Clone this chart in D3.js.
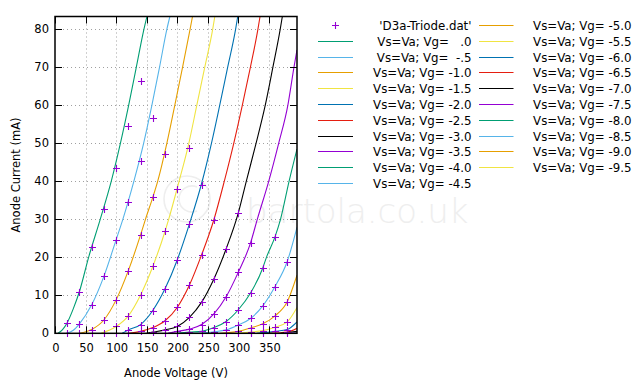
<!DOCTYPE html>
<html><head><meta charset="utf-8">
<script src="https://cdn.jsdelivr.net/npm/d3@7"></script>
<style>
body{margin:0;background:#fff;}
svg{display:block;font-family:"DejaVu Sans",Verdana,sans-serif;}
</style>
</head><body>
<svg id="chart" width="640" height="384"></svg>
<script>
// ---- data ----
const xTicks = [0, 50, 100, 150, 200, 250, 300, 350];
const yTicks = [0, 10, 20, 30, 40, 50, 60, 70, 80];
const xDomain = [0, 396];
const yDomain = [0, 83.4];

// measured points [Va (V), Ia (mA)]
const measured = [
  [20,2.8],[20,0],
  [40,11.0],[40,2.5],[40,0],
  [60,22.6],[60,7.5],[60,1.0],[60,0],
  [80,32.7],[80,15.0],[80,3.5],[80,0],
  [100,43.6],[100,24.6],[100,8.8],[100,1.8],[100,0],
  [120,54.6],[120,34.5],[120,16.5],[120,4.6],[120,1.0],[120,0],
  [140,66.3],[140,45.3],[140,25.9],[140,10.1],[140,2.3],[140,0.5],
  [160,56.8],[160,35.9],[160,17.6],[160,6.0],[160,1.5],[160,0.3],
  [180,47.1],[180,26.8],[180,11.7],[180,3.3],[180,0.9],[180,0],
  [200,37.9],[200,19.3],[200,6.8],[200,1.8],[200,0.5],[200,0],
  [220,48.7],[220,28.8],[220,12.7],[220,4.2],[220,1.1],[220,0.3],
  [240,39.0],[240,20.7],[240,8.2],[240,2.3],[240,0.5],[240,0],
  [260,29.9],[260,14.3],[260,5.1],[260,1.5],[260,0.4],[260,0],
  [280,22.2],[280,9.6],[280,3.1],[280,0.9],[280,0],
  [300,31.7],[300,16.1],[300,6.2],[300,2.2],[300,0.5],[300,0],
  [320,23.8],[320,10.6],[320,3.9],[320,1.4],[320,0.3],[320,0],
  [340,17.2],[340,7.2],[340,2.5],[340,0.7],[340,0],
  [360,25.4],[360,12.3],[360,4.6],[360,1.6],[360,0.5],[360,0],
  [380,18.9],[380,8.3],[380,3.0],[380,1.0],[380,0.3],[380,0]
];

// grid voltage labels for the model curves
const vgLabels = ["  .0"," -.5","-1.0","-1.5","-2.0","-2.5","-3.0","-3.5","-4.0","-4.5",
                  "-5.0","-5.5","-6.0","-6.5","-7.0","-7.5","-8.0","-8.5","-9.0","-9.5"];

// model curves: [Va, Ia]
const curveVg00 = [[5,0],[12,0.9],[20,2.8],[30,6.5],[40,11],[55,20],[74,30],[92,40],[107,50],[120.5,60],[133,70],[145.5,80],[150.5,83.4]];
const curveVg05 = [[18,0],[30,0.8],[40,2.5],[60,7.5],[80,15],[100,24.6],[111,30],[129,40],[145,50],[158.5,60],[171,70],[183,80],[188,83.4]];
const curveVg10 = [[40,0],[60,1.0],[80,3.5],[100,8.8],[120,16.5],[140,25.9],[148,30],[160,35.8],[168,40],[183,50],[196,60],[208.7,70],[221,80],[225,83.4]];
const curveVg15 = [[75,0],[100,1.8],[120,4.6],[140,10.1],[160,17.6],[180,26.8],[186,30],[203,40],[219,50],[232,60],[245,70],[258,80],[261.5,83.4]];
const curveVg20 = [[110,0],[120,0.9],[140,2.3],[160,6.0],[180,11.7],[200,19.3],[220,28.8],[240,39.5],[256,50],[269.5,60],[282.5,70],[295.5,80],[299,83.4]];
const curveVg25 = [[120,0],[140,0.5],[160,1.5],[180,3.3],[200,6.8],[220,12.7],[240,20.7],[260,29.9],[277,40],[292.5,50],[306.5,60],[319.7,70],[332,80],[335.5,83.4]];
const curveVg30 = [[150,0],[160,0.3],[180,0.9],[200,1.8],[220,4.2],[240,8.2],[260,14.3],[280,22.2],[300,31.7],[313,40],[329,50],[344,60],[356.5,70],[368.5,80],[372,83.4]];
const curveVg35 = [[185,0],[200,0.5],[220,1.1],[240,2.3],[260,5.1],[280,9.6],[300,16.1],[320,23.8],[331,30],[349.7,40],[366,50],[381,60],[391,70],[396,74.6]];
const curveVg40 = [[200,0],[220,0.3],[240,0.5],[260,1.5],[280,3.1],[300,6.2],[320,10.6],[340,17.2],[346,20],[360,25.4],[369,30],[383,40],[396,48.5]];
const curveVg45 = [[230,0],[260,0.4],[280,0.9],[300,2.2],[320,3.9],[340,7.2],[360,12.3],[380,18.9],[396,27.9]];
const curveVg50 = [[270,0],[300,0.5],[320,1.4],[340,2.5],[360,4.6],[380,8.3],[396,15.3]];
const curveVg55 = [[300,0],[320,0.3],[340,0.7],[360,1.6],[380,3.0],[396,6.8]];
const curveVg60 = [[330,0],[360,0.5],[380,1.0],[396,3.0]];
const curveVg65 = [[350,0],[380,0.3],[396,1.3]];
const curveVg70 = [[370,0],[396,0.5]];
const curveVg75 = [[385,0],[396,0.15]];
const curveVg80 = [[390,0],[396,0.05]];
const curveVg85 = [[392,0],[396,0.02]];
const curveVg90 = [[394,0],[396,0.01]];
const curveVg95 = [[395,0],[396,0.005]];

const curves = [curveVg00,curveVg05,curveVg10,curveVg15,curveVg20,curveVg25,curveVg30,curveVg35,curveVg40,curveVg45,
                curveVg50,curveVg55,curveVg60,curveVg65,curveVg70,curveVg75,curveVg80,curveVg85,curveVg90,curveVg95];

const palette = ["#9400d3","#009e73","#56b4e9","#e69f00","#f0e442","#0072b2","#e51e10","#000000"];

// ---- layout ----
const L = 55, R = 297, T = 16.5, B = 333.3;
const svg = d3.select("#chart");
const x = d3.scaleLinear().domain(xDomain).range([L, R]);
const y = d3.scaleLinear().domain(yDomain).range([B, T]);

// watermark
const wm = svg.append("g").attr("fill","none");
wm.append("circle").attr("cx",187).attr("cy",199).attr("r",23).attr("stroke","#eeeeee").attr("stroke-width",1.6);
wm.append("path").attr("d","M197,187 A13,13 0 1 0 197,211").attr("stroke","#eeeeee").attr("stroke-width",1.6);
svg.append("text").attr("x",246).attr("y",223).attr("font-size",34).attr("font-weight",200)
  .attr("fill","#eeeeee").text("bartola.co.uk");

// grid
const grid = svg.append("g").attr("stroke","#a0a0a0").attr("stroke-width",1).attr("stroke-dasharray","1,3");
xTicks.filter(v => v > 0).forEach(v => {
  grid.append("line").attr("x1",Math.round(x(v))+0.5).attr("x2",Math.round(x(v))+0.5).attr("y1",T).attr("y2",B);
});
yTicks.filter(v => v > 0).forEach(v => {
  grid.append("line").attr("y1",Math.round(y(v))+0.5).attr("y2",Math.round(y(v))+0.5).attr("x1",L).attr("x2",R);
});

// clip
svg.append("defs").append("clipPath").attr("id","plot").append("rect")
  .attr("x",L).attr("y",T).attr("width",R-L).attr("height",B-T);

const plot = svg.append("g").attr("clip-path","url(#plot)");

// measured markers
function plus(g, cx, cy, s, color){
  g.append("path").attr("d",`M${cx-s},${cy}H${cx+s}M${cx},${cy-s}V${cy+s}`)
   .attr("stroke",color).attr("stroke-width",1.1).attr("fill","none");
}
const mg = svg.append("g");
measured.forEach(d => plus(mg, Math.round(x(d[0]))+0.5, Math.round(y(d[1]))+0.5, 3.5, palette[0]));

// curves
const line = d3.line().x(d => x(d[0])).y(d => y(d[1])).curve(d3.curveMonotoneX);
curves.forEach((c, i) => {
  plot.append("path").attr("d", line(c)).attr("fill","none")
    .attr("stroke", palette[(i+1) % 8]).attr("stroke-width",1.1);
});

// border
svg.append("rect").attr("x",L).attr("y",T).attr("width",R-L).attr("height",B-T)
  .attr("fill","none").attr("stroke","#000").attr("stroke-width",1.5);

// ticks (inward, mirrored)
const tk = svg.append("g").attr("stroke","#000").attr("stroke-width",1);
const tl = 7;
xTicks.forEach(v => {
  const px = Math.round(x(v))+0.5;
  tk.append("line").attr("x1",px).attr("x2",px).attr("y1",B).attr("y2",B-tl);
  tk.append("line").attr("x1",px).attr("x2",px).attr("y1",T).attr("y2",T+tl);
});
yTicks.forEach(v => {
  const py = Math.round(y(v))+0.5;
  tk.append("line").attr("y1",py).attr("y2",py).attr("x1",L).attr("x2",L+tl);
  tk.append("line").attr("y1",py).attr("y2",py).attr("x1",R).attr("x2",R-tl);
});

// tick labels
const lab = svg.append("g").attr("font-size",11.5).attr("fill","#000");
xTicks.forEach(v => lab.append("text").attr("x",x(v)+1).attr("y",352).attr("text-anchor","middle").text(v));
yTicks.forEach(v => lab.append("text").attr("x",49).attr("y",y(v)+4).attr("text-anchor","end").text(v));

// axis titles
svg.append("text").attr("x",176).attr("y",377).attr("text-anchor","middle").attr("font-size",11.5).text("Anode Voltage (V)");
svg.append("text").attr("transform","translate(20,175) rotate(-90)").attr("text-anchor","middle").attr("font-size",11.5).text("Anode Current (mA)");

// legend
const leg = svg.append("g").attr("font-size",11.8);
const rowY = i => 25 + i*15.8;
const entries = [{type:"data", text:"'D3a-Triode.dat'"}].concat(
  vgLabels.map((v,i) => ({type:"line", text:"Vs=Va; Vg= " + v, color: palette[(i+1)%8]})));
entries.forEach((e, k) => {
  const col = k < 11 ? 0 : 1;
  const row = k < 11 ? k : k - 11;
  const lx1 = col === 0 ? 318 : 479, lx2 = col === 0 ? 353 : 513.5, tx = col === 0 ? 471.5 : 631.5;
  const yy = Math.round(rowY(row)) + 0.5;
  if (e.type === "data") plus(leg, 335.5, yy, 3.5, palette[0]);
  else leg.append("line").attr("x1",lx1).attr("x2",lx2).attr("y1",yy).attr("y2",yy).attr("stroke",e.color).attr("stroke-width",1.1);
  leg.append("text").attr("x",tx).attr("y",yy+4).attr("text-anchor","end").style("white-space","pre").text(e.text);
});
</script>
</body></html>
